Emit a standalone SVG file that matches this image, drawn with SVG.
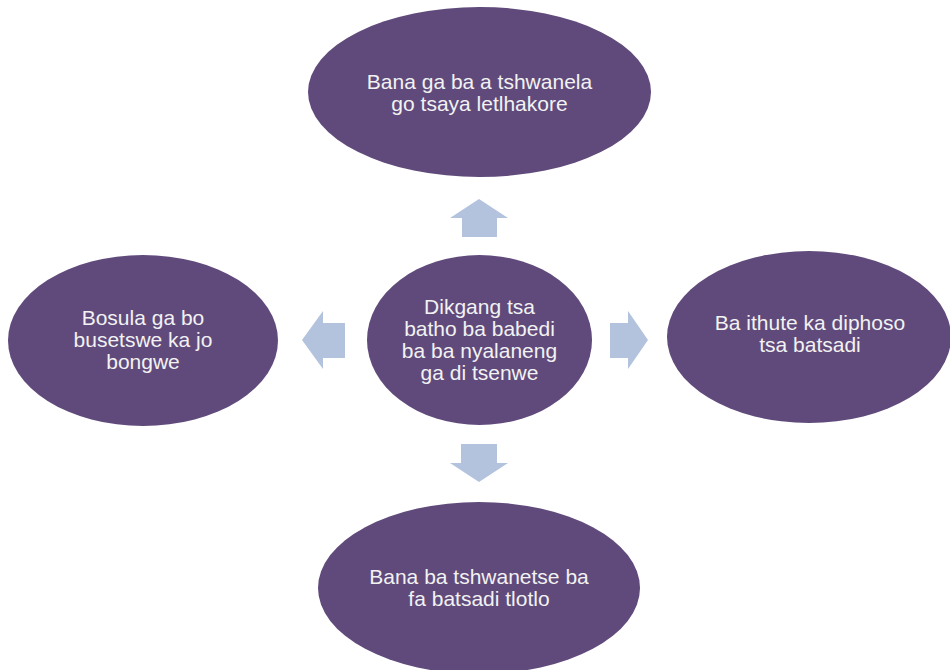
<svg xmlns="http://www.w3.org/2000/svg" width="950" height="670" viewBox="0 0 950 670">
<style>
.node ellipse{fill:#604A7B;}
.node text{fill:#F2F2F2;font-family:"Liberation Sans",Arial,sans-serif;font-size:21px;text-anchor:middle;}
.arrow{fill:#B3C3DD;}
</style>
<rect width="950" height="670" fill="#FFFFFF"/>
<g id="connectors">
<polygon class="arrow" points="479,199 508,218 497,218 497,237 462,237 462,218 450,218"/>
<polygon class="arrow" points="479,482 508,463 497,463 497,444 461,444 461,463 450,463"/>
<polygon class="arrow" points="302,340 323,311 323,323 345,323 345,358 323,358 323,369"/>
<polygon class="arrow" points="648,340 628,311 628,323 610,323 610,358 628,358 628,369"/>
</g>
<g id="node-top" class="node">
<ellipse cx="479.5" cy="92" rx="171.5" ry="85"/>
<text x="479.5" y="89">Bana ga ba a tshwanela</text>
<text x="479.5" y="111">go tsaya letlhakore</text>
</g>
<g id="node-left" class="node">
<ellipse cx="143" cy="340.5" rx="135" ry="85.5"/>
<text x="143" y="325">Bosula ga bo</text>
<text x="143" y="347">busetswe ka jo</text>
<text x="143" y="369">bongwe</text>
</g>
<g id="node-center" class="node">
<ellipse cx="479.5" cy="340" rx="112.5" ry="85"/>
<text x="479.5" y="314">Dikgang tsa</text>
<text x="479.5" y="336">batho ba babedi</text>
<text x="479.5" y="358">ba ba nyalaneng</text>
<text x="479.5" y="380">ga di tsenwe</text>
</g>
<g id="node-right" class="node">
<ellipse cx="809" cy="337" rx="142" ry="86"/>
<text x="810" y="330">Ba ithute ka diphoso</text>
<text x="810" y="352">tsa batsadi</text>
</g>
<g id="node-bottom" class="node">
<ellipse cx="479" cy="588" rx="161" ry="86"/>
<text x="479" y="584">Bana ba tshwanetse ba</text>
<text x="479" y="606">fa batsadi tlotlo</text>
</g>
</svg>
